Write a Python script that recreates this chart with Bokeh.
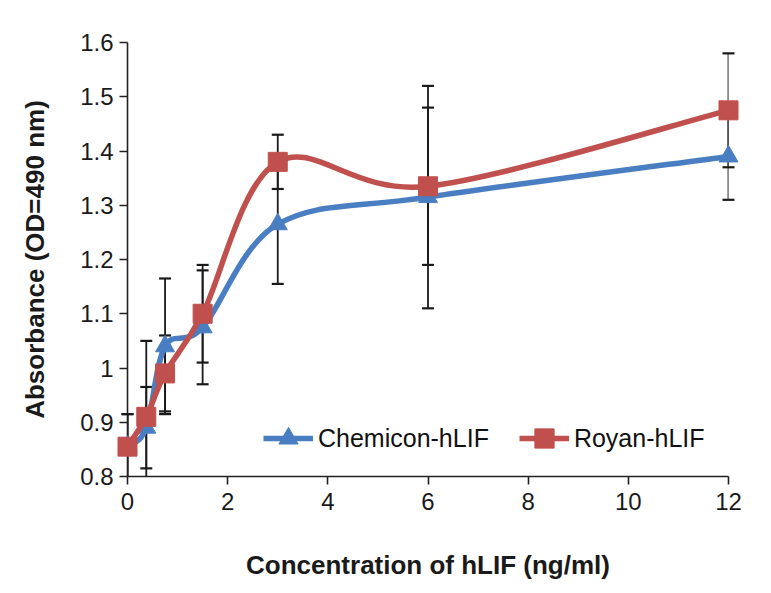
import numpy as np
from bokeh.plotting import figure
from bokeh.models import Range1d, FixedTicker, Legend, LegendItem, ColumnDataSource, CDSView, BooleanFilter
from bokeh.embed import file_html
from bokeh.resources import INLINE

# ---- data ----
conc = [0, 0.375, 0.75, 1.5, 3, 6, 12]
chemicon = [0.855, 0.89, 1.04, 1.075, 1.265, 1.315, 1.39]
chemicon_err = [0.06, 0.075, 0.125, 0.105, 0.11, 0.205, 0.08]
royan = [0.855, 0.91, 0.99, 1.10, 1.38, 1.335, 1.475]
royan_err = [0.06, 0.14, 0.07, 0.09, 0.05, 0.145, 0.105]

x_ticks = [0, 2, 4, 6, 8, 10, 12]
y_ticks = [0.8, 0.9, 1.0, 1.1, 1.2, 1.3, 1.4, 1.5, 1.6]
y_tick_labels = ["0.8", "0.9", "1", "1.1", "1.2", "1.3", "1.4", "1.5", "1.6"]

series_names = ["Chemicon-hLIF", "Royan-hLIF"]
x_title = "Concentration of hLIF (ng/ml)"
y_title = "Absorbance (OD=490 nm)"

BLUE = "#4A7EC2"
RED = "#C0504D"
TICK_FONT = "'Liberation Sans', Arial, sans-serif"
BOLD_FONT = "'Liberation Sans', Arial, sans-serif"

Y_MIN, Y_MAX = 0.8, 1.6

p = figure(width=763, height=585, output_backend="svg", toolbar_location=None,
           x_range=Range1d(0, 12), y_range=Range1d(Y_MIN, Y_MAX),
           min_border_left=127, min_border_right=35, min_border_top=42,
           min_border_bottom=109, background_fill_color="white",
           border_fill_color="white", outline_line_color=None)
p.grid.visible = False


def smooth_controls(xs, ys):
    """Bezier control points (Excel-like smoothing) derived from the data."""
    n = len(xs)
    x0, y0, x1, y1, cx0, cy0, cx1, cy1 = ([] for _ in range(8))
    for i in range(n - 1):
        a = i - 1 if i > 0 else i
        d = i + 2 if i + 2 < n else i + 1
        x0.append(xs[i]); y0.append(ys[i])
        x1.append(xs[i + 1]); y1.append(ys[i + 1])
        cx0.append(xs[i] + (xs[i + 1] - xs[a]) / 6.0)
        cy0.append(ys[i] + (ys[i + 1] - ys[a]) / 6.0)
        cx1.append(xs[i + 1] - (xs[d] - xs[i]) / 6.0)
        cy1.append(ys[i + 1] - (ys[d] - ys[i]) / 6.0)
    return dict(x0=x0, y0=y0, x1=x1, y1=y1, cx0=cx0, cy0=cy0, cx1=cx1, cy1=cy1)


# error bars (under the lines); stems clipped to the plot area
for vals, errs in [(chemicon, chemicon_err), (royan, royan_err)]:
    lo = [v - e for v, e in zip(vals, errs)]
    hi = [v + e for v, e in zip(vals, errs)]
    p.segment(x0=conc, y0=lo, x1=conc, y1=hi, line_color="#1a1a1a",
              line_width=1.8)
    cap_src = ColumnDataSource(dict(x=conc + conc, y=lo + hi))
    inside = [Y_MIN <= v <= Y_MAX for v in lo + hi]
    p.scatter(x="x", y="y", source=cap_src, view=CDSView(filter=BooleanFilter(inside)),
              marker="dash", size=12, line_color="#1a1a1a", line_width=2.2,
              level="overlay")

items = []
for name, vals, color, marker, msize in [
        (series_names[0], chemicon, BLUE, "triangle", 19),
        (series_names[1], royan, RED, "square", 19)]:
    c = smooth_controls(conc, vals)
    p.bezier(x0=c["x0"], y0=c["y0"], x1=c["x1"], y1=c["y1"],
             cx0=c["cx0"], cy0=c["cy0"], cx1=c["cx1"], cy1=c["cy1"],
             line_color=color, line_width=5.5, level="overlay")
    leg_line = p.line(x=[np.nan], y=[np.nan], line_color=color, line_width=5.5)
    mk = p.scatter(x=conc, y=vals, marker=marker, size=msize,
                   fill_color=color, line_color=color, level="overlay")
    items.append(LegendItem(label=name, renderers=[leg_line, mk]))

legend = Legend(items=items, orientation="horizontal", location=(136, 14),
                glyph_width=50, glyph_height=48, label_standoff=5, spacing=30,
                padding=0, margin=0, border_line_color=None,
                background_fill_alpha=0, label_text_font=TICK_FONT,
                label_text_font_size="25px", label_text_color="#111111")
p.add_layout(legend, "center")

# axes
xa = p.xaxis[0]
xa.ticker = FixedTicker(ticks=x_ticks)
xa.axis_label = x_title
ya = p.yaxis[0]
ya.ticker = FixedTicker(ticks=y_ticks)
ya.major_label_overrides = {t: l for t, l in zip(y_ticks, y_tick_labels)}
ya.axis_label = y_title

for ax in (xa, ya):
    ax.axis_line_color = "#222222"
    ax.axis_line_width = 1.6
    ax.major_tick_line_color = "#222222"
    ax.major_tick_line_width = 1.6
    ax.major_tick_out = 8
    ax.major_tick_in = 0
    ax.minor_tick_line_color = None
    ax.major_label_text_font = TICK_FONT
    ax.major_label_text_font_size = "24px"
    ax.major_label_text_color = "#1a1a1a"
    ax.axis_label_text_font = BOLD_FONT
    ax.axis_label_text_font_style = "bold"
    ax.axis_label_text_font_size = "26px"
    ax.axis_label_text_color = "#1a1a1a"

xa.major_label_standoff = 8
xa.axis_label_standoff = 37
ya.major_label_standoff = 6
ya.axis_label_standoff = 27

open("out.html", "w").write(file_html(p, INLINE))
